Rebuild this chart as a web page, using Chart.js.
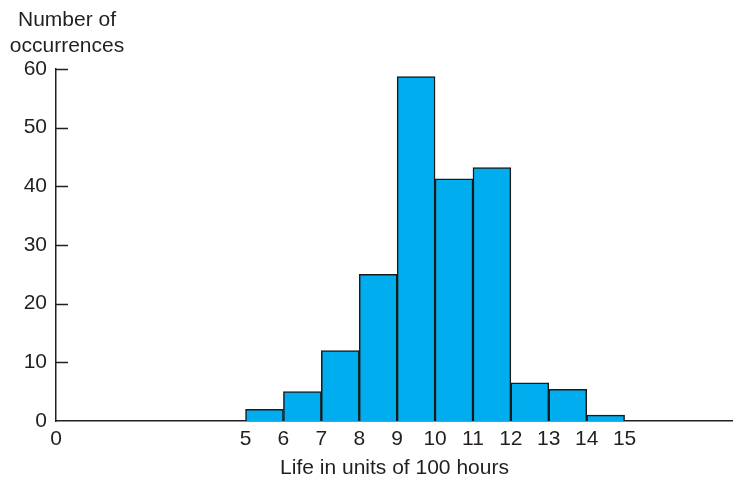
<!DOCTYPE html>
<html>
<head>
<meta charset="utf-8">
<script src="https://cdn.jsdelivr.net/npm/chart.js@4"></script>
<style>
  html, body { margin: 0; padding: 0; background: #fff; }
  #wrap { width: 733px; height: 478px; position: relative; }
</style>
</head>
<body>
<div id="wrap"><canvas id="histChart" width="733" height="478"></canvas></div>
<script>
// bin start (units of 100 hours) and counts
const binStarts = [5, 6, 7, 8, 9, 10, 11, 12, 13, 14]
const counts = [2, 5, 12, 25, 58.7, 41.3, 43.2, 6.5, 5.4, 1]
const xTicks = [0, 5, 6, 7, 8, 9, 10, 11, 12, 13, 14, 15]
const yTicks = [0, 10, 20, 30, 40, 50, 60]

const inkColor = '#231f20'
const fontFamily = '"Liberation Sans", Arial, Helvetica, sans-serif'
const fontSize = 21

// y ticks point into the plot, and the y title sits above the axis
const innerTicks = {
    id: 'innerTicks',
    afterDraw(chart) {
        const ctx = chart.ctx
        const yScale = chart.scales.y
        const left = chart.chartArea.left
        ctx.save()
        ctx.strokeStyle = inkColor
        ctx.lineWidth = 1.5
        yTicks.forEach(v => {
            if (v === 0) return
            const py = Math.round(yScale.getPixelForValue(v)) + 0.5
            ctx.beginPath()
            ctx.moveTo(left, py)
            ctx.lineTo(left + 12, py)
            ctx.stroke()
        })
        ctx.fillStyle = inkColor
        ctx.font = fontSize + 'px ' + fontFamily
        ctx.textAlign = 'center'
        ctx.textBaseline = 'middle'
        ctx.fillText('Number of', 67, 20)
        ctx.fillText('occurrences', 67, 46)
        ctx.restore()
    }
}

const histChart = new Chart(document.getElementById('histChart'), {
    type: 'bar',
    data: {
        datasets: [{
            data: binStarts.map((b, i) => ({ x: b + 0.5, y: counts[i] })),
            backgroundColor: '#00aeef',
            borderColor: '#1a1a1a',
            borderWidth: 1.5,
            barPercentage: 1,
            categoryPercentage: 1
        }]
    },
    options: {
        responsive: false,
        animation: false,
        layout: { padding: { top: 69, left: 0, right: 0, bottom: 0 } },
        plugins: {
            legend: { display: false },
            tooltip: { enabled: false }
        },
        scales: {
            x: {
                type: 'linear',
                offset: false,
                min: 0,
                max: 17.86,
                afterBuildTicks: (scale) => { scale.ticks = xTicks.map(v => ({ value: v })) },
                afterFit: (scale) => { scale.height = 57 },
                grid: { display: false, drawTicks: false },
                border: { display: true, color: inkColor, width: 1.5 },
                ticks: {
                    autoSkip: false,
                    maxRotation: 0,
                    padding: 6,
                    color: inkColor,
                    font: { family: fontFamily, size: fontSize }
                },
                title: {
                    display: true,
                    text: 'Life in units of 100 hours',
                    color: inkColor,
                    padding: { top: 0, bottom: -3 },
                    font: { family: fontFamily, size: fontSize }
                }
            },
            y: {
                min: 0,
                max: 60,
                afterBuildTicks: (scale) => { scale.ticks = yTicks.map(v => ({ value: v })) },
                afterFit: (scale) => { scale.width = 56 },
                grid: { display: false, drawTicks: false },
                border: { display: true, color: inkColor, width: 1.5 },
                ticks: {
                    padding: 9,
                    color: inkColor,
                    font: { family: fontFamily, size: fontSize }
                }
            }
        }
    },
    plugins: [innerTicks]
});
</script>
</body>
</html>
